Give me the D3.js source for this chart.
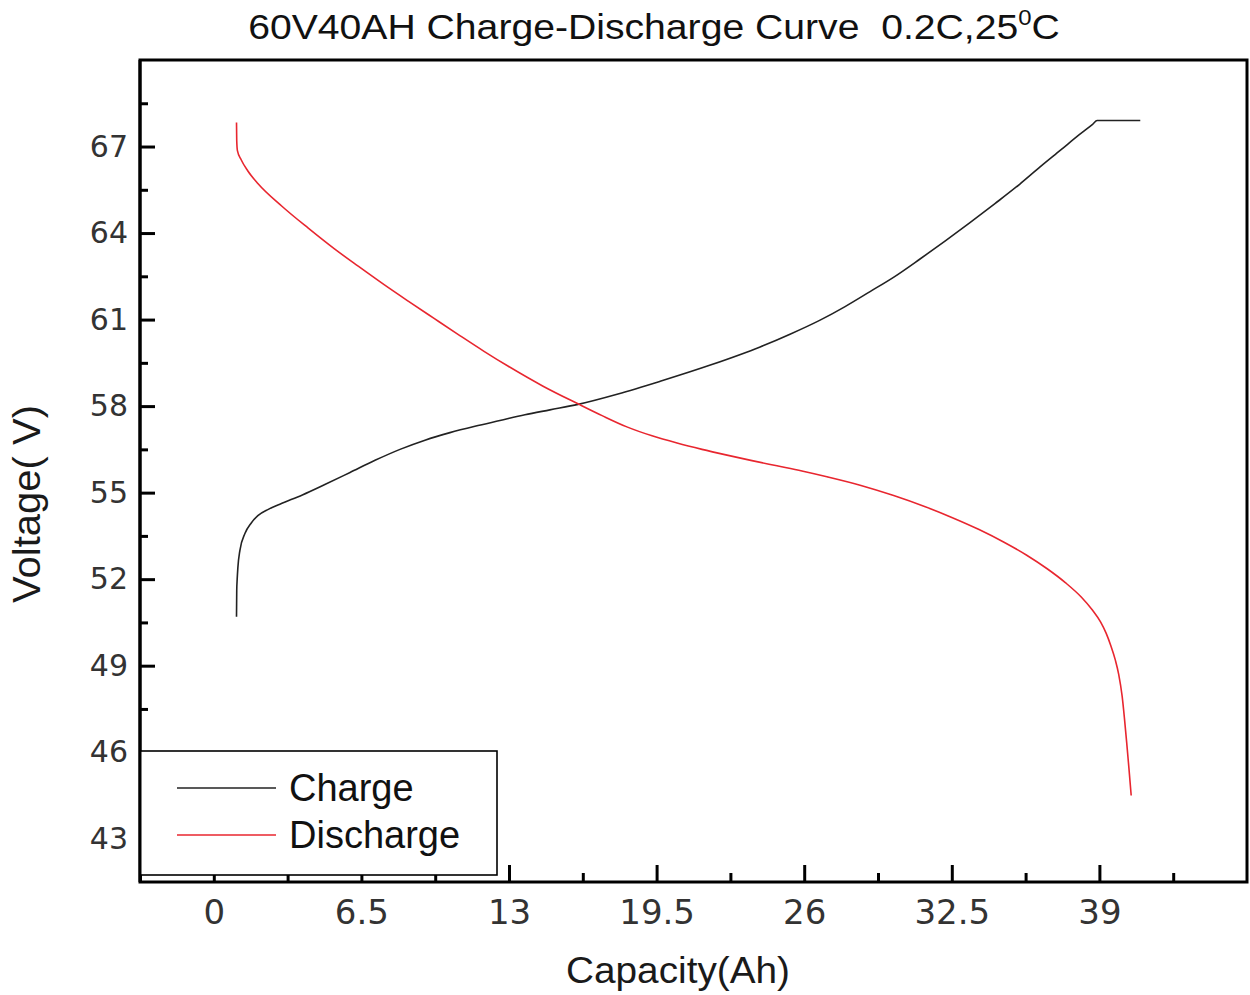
<!DOCTYPE html>
<html>
<head>
<meta charset="utf-8">
<script src="https://cdn.jsdelivr.net/npm/d3@7"></script>
<style>
  body { margin: 0; background: #fff; }
  svg text { font-family: "Liberation Sans", Arial, sans-serif; }
</style>
</head>
<body>
<div id="chart"></div>
<script>
// capacity (Ah) / voltage (V)
const chargeCap = [1.0, 1.01, 1.03, 1.06, 1.15, 1.37, 1.65, 1.94, 2.4, 2.91, 3.9, 4.89, 6.0, 7.1, 8.2, 9.3, 10.4, 11.5, 12.6, 13.7, 14.8, 16.04, 17.8, 19.66, 21.9, 24.06, 25.4, 26.7, 27.8, 28.9, 30.0, 31.1, 32.2, 33.3, 34.4, 35.5, 36.4, 37.3, 38.1, 38.7, 38.9, 39.9, 40.8];
const chargeV = [50.7, 51.6, 52.0, 52.4, 53.0, 53.58, 53.95, 54.2, 54.42, 54.6, 54.92, 55.28, 55.7, 56.12, 56.5, 56.82, 57.08, 57.3, 57.5, 57.7, 57.87, 58.06, 58.42, 58.86, 59.43, 60.05, 60.5, 60.98, 61.45, 61.97, 62.5, 63.1, 63.72, 64.36, 65.02, 65.7, 66.3, 66.88, 67.4, 67.77, 67.9, 67.9, 67.9];
const dischargeCap = [1.0, 1.01, 1.04, 1.2, 1.5, 1.95, 3.0, 4.16, 5.3, 6.36, 7.5, 8.56, 9.7, 10.77, 11.9, 12.97, 14.5, 16.06, 17.1, 18.19, 19.3, 20.4, 21.5, 22.6, 23.7, 24.8, 25.9, 27.0, 28.5, 29.94, 31.3, 32.5, 33.7, 34.8, 35.8, 36.7, 37.5, 38.2, 38.7, 39.05, 39.3, 39.5, 39.7, 39.85, 40.0, 40.1, 40.2, 40.3, 40.4];
const dischargeV = [67.83, 67.2, 66.86, 66.55, 66.15, 65.71, 64.93, 64.17, 63.46, 62.85, 62.21, 61.64, 61.04, 60.48, 59.9, 59.38, 58.69, 58.07, 57.67, 57.28, 56.97, 56.72, 56.5, 56.3, 56.11, 55.93, 55.75, 55.55, 55.25, 54.9, 54.52, 54.14, 53.72, 53.28, 52.83, 52.36, 51.88, 51.38, 50.92, 50.52, 50.12, 49.7, 49.2, 48.7, 47.95, 47.2, 46.35, 45.45, 44.5];
const seriesNames = ["Charge", "Discharge"];
const seriesColors = ["#222222", "#e8262f"];
const xMajorTicks = [0, 6.5, 13, 19.5, 26, 32.5, 39];
const xMinorTicks = [-3.25, 3.25, 9.75, 16.25, 22.75, 29.25, 35.75, 42.25];
const yMajorTicks = [43, 46, 49, 52, 55, 58, 61, 64, 67];
const yMinorTicks = [44.5, 47.5, 50.5, 53.5, 56.5, 59.5, 62.5, 65.5, 68.5];

const W = 1250, H = 995;
const margin = { top: 60, right: 3, bottom: 113, left: 140 };
const iw = W - margin.left - margin.right;
const ih = H - margin.top - margin.bottom;

const svg = d3.select("#chart").append("svg")
  .attr("width", W)
  .attr("height", H);

const g = svg.append("g")
  .attr("transform", `translate(${margin.left},${margin.top})`);

const x = d3.scaleLinear().domain([-3.25, 45.5]).range([0, iw]);
const y = d3.scaleLinear().domain([41.5, 70]).range([ih, 0]);

// squeeze/stretch a text horizontally so it spans a given width
function fitWidth(sel, width, cx, cy, rotate) {
  const w = sel.node().getComputedTextLength();
  const s = width / w;
  sel.attr("transform", `translate(${cx},${cy})${rotate ? " rotate(-90)" : ""} scale(${s},1)`);
}

// axes - ticks point inward
const xAxis = g.append("g")
  .attr("transform", `translate(0,${ih})`)
  .call(d3.axisBottom(x).tickValues(xMajorTicks).tickSize(-17).tickPadding(18)
    .tickFormat(d3.format("")));
xAxis.selectAll("text")
  .style("font-family", "'DejaVu Sans', sans-serif")
  .style("font-size", "34px")
  .attr("fill", "#333");

g.append("g")
  .attr("transform", `translate(0,${ih})`)
  .call(d3.axisBottom(x).tickValues(xMinorTicks).tickSize(-9).tickFormat(""));

const yAxis = g.append("g")
  .call(d3.axisLeft(y).tickValues(yMajorTicks).tickSize(-15).tickPadding(12));
yAxis.selectAll("text")
  .style("font-family", "'DejaVu Sans', sans-serif")
  .style("font-size", "30px")
  .attr("fill", "#333");

g.append("g")
  .call(d3.axisLeft(y).tickValues(yMinorTicks).tickSize(-8).tickFormat(""));

g.selectAll(".tick line").attr("stroke", "#000").attr("stroke-width", 3);
g.selectAll(".domain").remove();

// frame
g.append("rect")
  .attr("width", iw)
  .attr("height", ih)
  .attr("fill", "none")
  .attr("stroke", "#000")
  .attr("stroke-width", 3);

// curves
const series = [
  chargeCap.map((c, i) => [c, chargeV[i]]),
  dischargeCap.map((c, i) => [c, dischargeV[i]])
];
const line = d3.line()
  .x(d => x(d[0]))
  .y(d => y(d[1]))
  .curve(d3.curveMonotoneX);

g.selectAll("path.curve")
  .data(series)
  .join("path")
  .attr("class", "curve")
  .attr("fill", "none")
  .attr("stroke", (d, i) => seriesColors[i])
  .attr("stroke-width", 1.6)
  .attr("d", line);

// legend box sits over the lower left corner
const legend = g.append("g");
legend.append("rect")
  .attr("x", 0)
  .attr("y", 691)
  .attr("width", 357)
  .attr("height", 124)
  .attr("fill", "#fff")
  .attr("stroke", "#000")
  .attr("stroke-width", 1.6);

seriesNames.forEach((name, i) => {
  const ly = 728 + i * 47;
  legend.append("line")
    .attr("x1", 37).attr("x2", 136)
    .attr("y1", ly).attr("y2", ly)
    .attr("stroke", seriesColors[i])
    .attr("stroke-width", 1.6);
  legend.append("text")
    .attr("x", 149)
    .attr("y", ly + 13)
    .style("font-size", "38px")
    .attr("fill", "#111")
    .text(name);
});

// redraw left edge over the legend
g.append("line")
  .attr("x1", 0).attr("x2", 0)
  .attr("y1", 0).attr("y2", ih)
  .attr("stroke", "#000")
  .attr("stroke-width", 3);

// title
const title = svg.append("text")
  .attr("text-anchor", "middle")
  .style("font-size", "36px")
  .attr("fill", "#111");
title.append("tspan").text("60V40AH Charge-Discharge Curve\u00a0\u00a00.2C,25");
title.append("tspan").attr("dy", -14).style("font-size", "22px").text("0");
title.append("tspan").attr("dy", 14).text("C");
fitWidth(title, 812, 654, 39, false);

// axis titles
const xTitle = svg.append("text")
  .attr("text-anchor", "middle")
  .style("font-size", "36px")
  .attr("fill", "#1a1a1a")
  .text("Capacity(Ah)");
fitWidth(xTitle, 224, 678, 983, false);

const yTitle = svg.append("text")
  .attr("text-anchor", "middle")
  .style("font-size", "39px")
  .attr("fill", "#1a1a1a")
  .text("Voltage( V)");
fitWidth(yTitle, 198, 40, 504, true);
</script>
</body>
</html>
